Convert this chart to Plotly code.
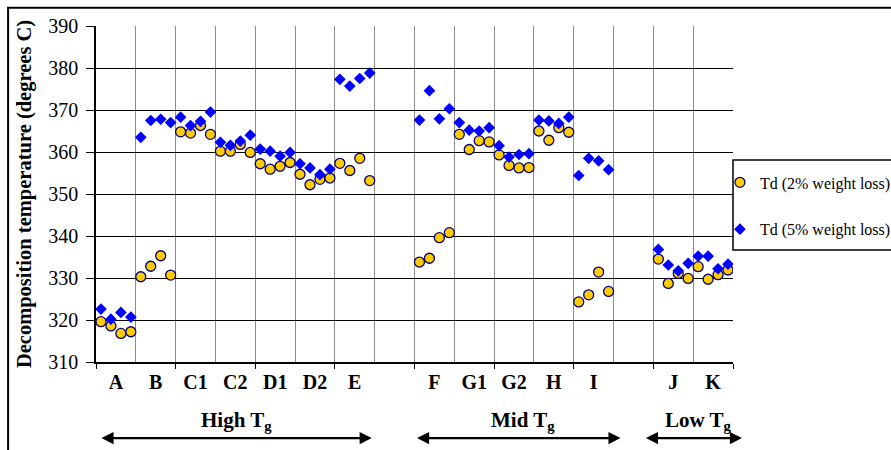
import plotly.graph_objects as go

# ---------------- data ----------------
categories = ["A", "B", "C1", "C2", "D1", "D2", "E", "",
              "F", "G1", "G2", "H", "I", "",
              "J", "K"]
samples_per_category = 4

td2 = [  # Td (2% weight loss)
    319.6, 318.6, 316.8, 317.2,   # A
    330.3, 332.8, 335.3, 330.7,   # B
    364.8, 364.5, 366.3, 364.2,   # C1
    360.2, 360.2, 361.8, 359.9,   # C2
    357.2, 355.9, 356.6, 357.5,   # D1
    354.7, 352.2, 353.5, 353.8,   # D2
    357.3, 355.6, 358.5, 353.2,   # E
    None, None, None, None,       # (gap)
    333.8, 334.7, 339.6, 340.8,   # F
    364.2, 360.6, 362.7, 362.4,   # G1
    359.3, 356.8, 356.2, 356.3,   # G2
    365.0, 362.8, 365.8, 364.7,   # H
    324.3, 326.0, 331.4, 326.8,   # I
    None, None, None, None,       # (gap)
    334.5, 328.7, 331.1, 329.9,   # J
    332.7, 329.7, 330.8, 331.9,   # K
]
td5 = [  # Td (5% weight loss)
    322.6, 320.2, 321.8, 320.7,   # A
    363.5, 367.5, 367.8, 367.0,   # B
    368.3, 366.3, 367.3, 369.5,   # C1
    362.3, 361.6, 362.6, 364.0,   # C2
    360.7, 360.2, 359.0, 359.9,   # D1
    357.2, 356.2, 354.6, 355.9,   # D2
    377.3, 375.7, 377.5, 378.8,   # E
    None, None, None, None,       # (gap)
    367.6, 374.6, 367.9, 370.3,   # F
    367.0, 365.2, 365.0, 365.8,   # G1
    361.5, 358.8, 359.4, 359.6,   # G2
    367.6, 367.4, 366.8, 368.3,   # H
    354.4, 358.5, 357.9, 355.8,   # I
    None, None, None, None,       # (gap)
    336.8, 333.1, 331.7, 333.5,   # J
    335.2, 335.2, 332.2, 333.3,   # K
]
series_names = ["Td (2% weight loss)", "Td (5% weight loss)"]
tg_groups = ["High T<sub>g</sub>", "Mid T<sub>g</sub>", "Low T<sub>g</sub>"]
y_ticks = list(range(310, 391, 10))

# ---------------- derived ----------------
n = len(categories) * samples_per_category
xs = [i + 0.5 for i in range(n)]
cat_centers = [g * samples_per_category + samples_per_category / 2 for g in range(len(categories))]

SERIF = "Liberation Serif, Times New Roman, serif"

fig = go.Figure()
fig.add_trace(go.Scatter(
    x=xs, y=td2, mode="markers", name=series_names[0], legendgroup="a",
    marker=dict(symbol="circle", size=10, color="#FFCC00",
                line=dict(color="#000080", width=1.3)),
))
fig.add_trace(go.Scatter(
    x=xs, y=td5, mode="markers", name=series_names[1], legendgroup="b",
    marker=dict(symbol="diamond", size=9, color="#0000FF", line=dict(width=0)),
))
# invisible trace to carry the category label axis
fig.add_trace(go.Scatter(x=[0, n], y=[None, None], xaxis="x2", showlegend=False,
                         hoverinfo="skip"))

fig.update_layout(
    width=891, height=450,
    margin=dict(l=96, r=158, t=26, b=88, autoexpand=False),
    paper_bgcolor="white", plot_bgcolor="white",
    font=dict(family=SERIF, color="black"),
    showlegend=True,
    legend=dict(x=0.9795, xanchor="left", y=0.585, yanchor="top",
                bgcolor="rgba(0,0,0,0)", borderwidth=0,
                font=dict(family=SERIF, size=16, color="black"),
                traceorder="grouped", tracegroupgap=23),
    xaxis=dict(range=[0, n], tickmode="array",
               tickvals=list(range(0, n + 1, 2 * samples_per_category)),
               showticklabels=False, ticks="outside", ticklen=5, tickcolor="black",
               showgrid=True, gridcolor="#8c8c8c", gridwidth=1,
               showline=True, linecolor="black", linewidth=1.5, zeroline=False,
               minor=dict(tickmode="array",
                          tickvals=list(range(samples_per_category, n, 2 * samples_per_category)),
                          showgrid=True, gridcolor="#8c8c8c", gridwidth=1, ticklen=0)),
    xaxis2=dict(range=[0, n], overlaying="x", anchor="y", side="bottom",
                tickmode="array", tickvals=cat_centers, ticktext=categories,
                ticks="", showgrid=False, showline=False, zeroline=False,
                tickfont=dict(family=SERIF, size=20, color="black", weight="bold"),
                ticklabelstandoff=6),
    yaxis=dict(range=[310, 390], tickmode="array", tickvals=y_ticks,
               ticks="outside", ticklen=8, tickcolor="black",
               tickfont=dict(family=SERIF, size=20, color="black"),
               ticklabelstandoff=4,
               showgrid=True, gridcolor="black", gridwidth=1,
               showline=True, linecolor="black", linewidth=1.5, zeroline=False,
               title=dict(text="<b>Decomposition temperature (degrees C)</b>",
                          font=dict(family=SERIF, size=20.5, color="black"),
                          standoff=11)),
)

# legend border
fig.add_shape(type="rect", xref="paper", yref="paper",
              x0=1.0, x1=1.4, y0=0.333, y1=0.601,
              line=dict(color="black", width=1.5), fillcolor="rgba(0,0,0,0)")
# outer chart border
fig.add_shape(type="rect", xref="paper", yref="paper",
              x0=-0.138, x1=1.5, y0=-0.5, y1=1.054,
              line=dict(color="black", width=2), fillcolor="rgba(0,0,0,0)")

# Tg group labels and arrows
arrow_spans = [(0.4, 27.7), (32.1, 52.7), (55.1, 64.9)]
label_x = [14.1, 42.9, 60.5]
for txt, lx, (a0, a1) in zip(tg_groups, label_x, arrow_spans):
    fig.add_annotation(x=lx, y=-0.176, xref="x", yref="paper", text="<b>" + txt + "</b>",
                       showarrow=False, font=dict(family=SERIF, size=21, color="black"),
                       xanchor="center", yanchor="middle")
    fig.add_annotation(x=a1, y=-0.2265, xref="x", yref="paper",
                       ax=a0, ay=0, axref="x", ayref="pixel", text="",
                       showarrow=True, arrowhead=2, arrowside="end+start",
                       arrowsize=1.1, arrowwidth=2.2, arrowcolor="black",
                       standoff=0, startstandoff=0)

fig.write_html("out.html", config={"displayModeBar": False},
               post_script="document.body.style.margin='0';document.body.style.padding='0';")
